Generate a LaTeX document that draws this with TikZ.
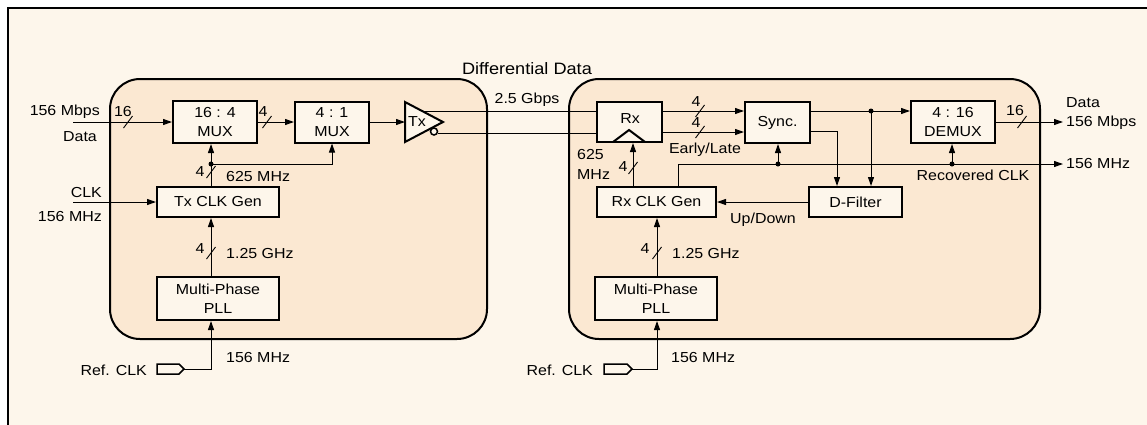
\documentclass[tikz,border=0pt]{standalone}
\usepackage{fontspec}
\setmainfont{Liberation Sans}[FakeStretch=1.1]
\usetikzlibrary{arrows.meta,calc}
\definecolor{bgcream}{HTML}{FDF6EB}
\definecolor{panel}{HTML}{FBE8D2}
\begin{document}
\begin{tikzpicture}[x=1pt,y=-1pt,font=\fontsize{14.5}{19.5}\selectfont,
  blk/.style={draw, line width=2pt, fill=bgcream, align=center, inner sep=0pt},
  arr/.style={line width=1pt, -{Triangle[length=9pt,width=6pt]}},
  ln/.style={line width=1pt},
  dot/.style={circle, fill=black, inner sep=0pt, minimum size=5pt},
  lbl/.style={inner sep=0pt},
  pics/bslash/.style={code={\draw[line width=0.9pt] (-4.5,6) -- (4.5,-6);}}]
\useasboundingbox (0,0) rectangle (1147,424);
\fill[white] (0,0) rectangle (1147,424);
\draw[line width=2pt, fill=bgcream] (8,8) rectangle (1200,480);
% panels
\draw[line width=2pt, fill=panel, rounded corners=30pt] (110,79) rectangle (487,339);
\draw[line width=2pt, fill=panel, rounded corners=30pt] (569,79) rectangle (1040,339);

% blocks
\node[blk, minimum width=84pt, minimum height=42pt] (mux1) at (215,122) {16 : 4\\MUX};
\node[blk, minimum width=74pt, minimum height=41pt] (mux2) at (332,122) {4 : 1\\MUX};
\node[blk, minimum width=122pt, minimum height=30pt] (txgen) at (218,202) {Tx CLK Gen};
\node[blk, minimum width=122pt, minimum height=43pt] (pll1) at (218,298.5) {Multi-Phase\\PLL};
\node[blk, minimum width=65pt, minimum height=40pt] (rx) at (629.5,122) {};
\node[blk, minimum width=65pt, minimum height=41pt] (sync) at (777.5,122.5) {Sync.};
\node[blk, minimum width=119pt, minimum height=30pt] (rxgen) at (656.5,202) {Rx CLK Gen};
\node[blk, minimum width=93pt, minimum height=30pt] (dfilter) at (855.5,202) {D-Filter};
\node[blk, minimum width=84pt, minimum height=42pt] (demux) at (953,122) {4 : 16\\DEMUX};
\node[blk, minimum width=122pt, minimum height=43pt] (pll2) at (656,298.5) {Multi-Phase\\PLL};
\node[lbl] (rxl) at (630,119) {Rx};
\draw[line width=2pt] (613,142) -- (629,130) -- (645,142);

% coordinates
\coordinate (din) at (73,122);
\coordinate (clkin) at (73,202);
\coordinate (tapA) at (211,164);
\coordinate (txin) at (405,122);
\coordinate (txp) at (422,111);
\coordinate (txn) at (438,133);
\coordinate (rxp) at (rx.west |- txp);
\coordinate (rxn) at (rx.west |- txn);
\coordinate (tapS) at (871,111);
\coordinate (elbow) at (837,131);
\coordinate (clkA) at (678,164);
\coordinate (dotS) at (778,164);
\coordinate (dotD) at (952,164);
\coordinate (clkout) at (1063,164);
\coordinate (dout) at (1063,122);
\coordinate (ref1) at (184,369);
\coordinate (ref2) at (632,369);

% left connectors
\draw[arr] (din) -- (mux1.west);
\draw[arr] (mux1.east) -- (mux2.west);
\draw[arr] (mux2.east) -- (txin);
\draw[arr] (clkin) -- (txgen.west);
\draw[arr] (txgen.north -| tapA) -- (mux1.south -| tapA);
\draw[arr] (tapA) -| (mux2.south);
\draw[arr] (pll1.north -| tapA) -- (txgen.south -| tapA);
\draw[arr] (ref1) -| (pll1.south -| tapA);
\node[dot] at (tapA) {};
\pic at (128,122) {bslash};
\pic at (267,122) {bslash};
\pic at (211,172) {bslash};
\pic at (211,253) {bslash};

% differential lines
\draw[ln] (txp) -- (rxp);
\draw[ln] (txn) -- (rxn);
\draw[line width=2pt, fill=bgcream] (405,102) -- (443,122) -- (405,142) -- cycle;
\draw[line width=1.5pt, fill=bgcream] (434,131.5) circle (3.5);
\node[lbl] at (417,122) {Tx};

% right connectors
\draw[arr] (rx.east |- 0,111) -- (sync.west |- 0,111);
\draw[arr] (rx.east |- 0,132) -- (sync.west |- 0,132);
\pic at (700,111) {bslash};
\pic at (700,132) {bslash};
\draw[arr] (sync.east |- tapS) -- (demux.west |- tapS);
\node[dot] at (tapS) {};
\draw[arr] (tapS) -- (dfilter.north -| tapS);
\draw[arr] (sync.east |- elbow) -| (dfilter.north -| elbow);
\draw[arr] (demux.east |- dout) -- (dout);
\pic at (1022,122) {bslash};
\draw[arr] (rxgen.north -| clkA) |- (clkout);
\draw[arr] (dotS) -- (sync.south -| dotS);
\draw[arr] (dotD) -- (demux.south -| dotD);
\node[dot] at (dotS) {};
\node[dot] at (dotD) {};
\draw[arr] (rxgen.north -| 633,0) -- (rx.south -| 633,0);
\pic at (633,168) {bslash};
\draw[arr] (dfilter.west) -- (rxgen.east);
\draw[arr] (pll2.north -| 657,0) -- (rxgen.south -| 657,0);
\pic at (657,253) {bslash};
\draw[arr] (ref2) -| (pll2.south -| 657,0);

% ref clk connectors
\draw[line width=1.5pt, fill=bgcream] (157,364) -- (179,364) -- (ref1) -- (179,374) -- (157,374) -- cycle;
\draw[line width=1.5pt, fill=bgcream] (604,364) -- (627,364) -- (ref2) -- (627,374) -- (604,374) -- cycle;

% labels
\node[lbl, anchor=east] at (100,112) {156 Mbps};
\node[lbl] at (80,137) {Data};
\node[lbl] at (123,112) {16};
\node[lbl] at (263,112) {4};
\node[lbl, anchor=east] at (102,193) {CLK};
\node[lbl, anchor=east] at (102,217) {156 MHz};
\node[lbl] at (200,172) {4};
\node[lbl, anchor=west] at (226,177) {625 MHz};
\node[lbl] at (200,249) {4};
\node[lbl, anchor=west] at (226,254) {1.25 GHz};
\node[lbl, anchor=west] at (226,357) {156 MHz};
\node[lbl, anchor=east] at (147,370) {Ref. CLK};
\node[lbl, font=\fontsize{16.5}{19}\selectfont] at (527,69) {Differential Data};
\node[lbl] at (527,100) {2.5 Gbps};
\node[lbl] at (696,102) {4};
\node[lbl] at (696,123) {4};
\node[lbl] at (705,150) {Early/Late};
\node[lbl, anchor=west] at (577,155) {625};
\node[lbl, anchor=west] at (577,175) {MHz};
\node[lbl] at (623,167) {4};
\node[lbl] at (763,220) {Up/Down};
\node[lbl] at (1015,111) {16};
\node[lbl, anchor=west] at (1066,103) {Data};
\node[lbl, anchor=west] at (1066,123) {156 Mbps};
\node[lbl, anchor=west] at (1066,164) {156 MHz};
\node[lbl] at (973,175) {Recovered CLK};
\node[lbl] at (645,249) {4};
\node[lbl, anchor=west] at (672,254) {1.25 GHz};
\node[lbl, anchor=west] at (671,357) {156 MHz};
\node[lbl, anchor=east] at (593,370) {Ref. CLK};
\end{tikzpicture}
\end{document}
